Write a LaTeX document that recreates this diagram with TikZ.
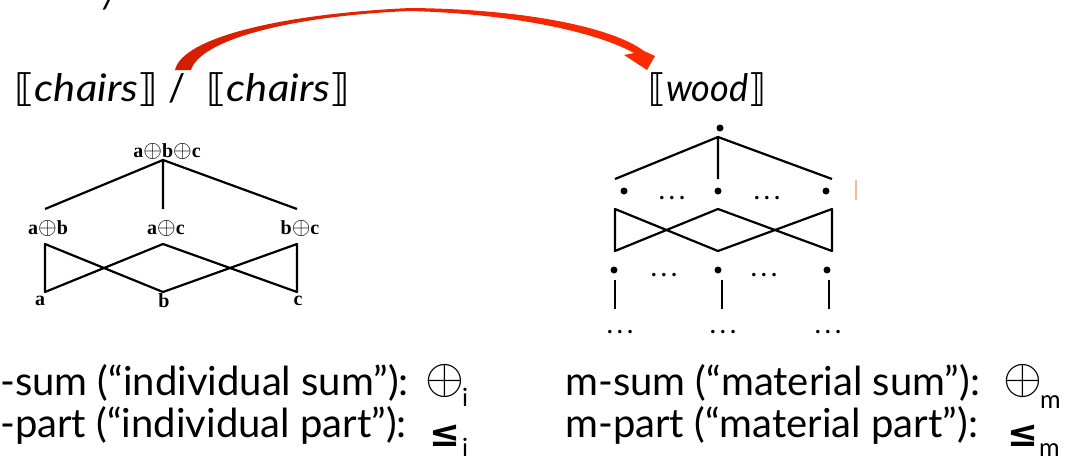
\documentclass[tikz,border=0pt]{standalone}
\usepackage{graphicx}
\usepackage{fontspec}
\setmainfont{Lato}
\newfontfamily\dvf{DejaVu Sans}
\newfontfamily\serifb{Liberation Serif}
\definecolor{arrdark}{RGB}{212,30,0}
\definecolor{arrlight}{RGB}{255,42,0}
\definecolor{faintorange}{RGB}{240,190,150}
\newcommand\brk[1]{{\dvf ⟦}\itshape #1\/{\upshape\dvf ⟧}}
\newcommand\elldots{{\dvf\fontsize{12}{12}\selectfont •\kern3pt•\kern3pt•}}
\newcommand\opl[1]{\scalebox{#1}{\fontsize{10}{12}\selectfont$\oplus$}}
\begin{document}
\begin{tikzpicture}[x=1pt,y=-1pt,
  ttl/.style={inner sep=0pt,anchor=base west,font=\fontsize{38}{40}\selectfont},
  lab/.style={inner sep=0pt,font=\serifb\bfseries\fontsize{20}{22}\selectfont},
  edge/.style={line width=2.2pt,black},
  dotn/.style={circle,fill=black,inner sep=0pt,minimum size=7pt},
  ell/.style={inner sep=0pt},
  bottxt/.style={inner sep=0pt,anchor=base west,font=\fontsize{40}{44}\selectfont},
  sym/.style={inner sep=0pt,anchor=base west},
  subs/.style={inner sep=0pt,anchor=base west,font=\fontsize{25}{25}\selectfont}]
\useasboundingbox (0,0) rectangle (1068,461);
% clipped fragment at top
\node[ttl] (frag) at (103,8) {\itshape /};
% titles
\node[ttl] (ch1) at (14,101) {\scalebox{1.1}[1]{\brk{chairs}}};
\node[ttl] (sl) at (168,101) {/};
\node[ttl] (ch2) at (206,101) {\scalebox{1.1}[1]{\brk{chairs}}};
\node[ttl] (wd) at (648,101) {\scalebox{0.95}[1]{\brk{wood}}};
% red arrow
\shade[left color=arrdark,right color=arrlight]
  (175,70) .. controls (182,38) and (280,14) .. (410,8)
  .. controls (520,9) and (610,26) .. (644,51) -- (655,56) -- (647,70) -- (624,55) -- (634,53)
  .. controls (600,34) and (520,14) .. (410,11)
  .. controls (290,16) and (200,40) .. (191,70) -- cycle;
% left lattice
\node[lab] (abc) at (167,151) {a\opl{2.4}b\opl{2.4}c};
\node[lab] (ab) at (48,228) {a\opl{2.4}b};
\node[lab] (ac) at (166,228) {a\opl{2.4}c};
\node[lab] (bc) at (300,228) {b\opl{2.4}c};
\node[lab] (a) at (40,301) {a};
\node[lab] (b) at (164,301) {b};
\node[lab] (c) at (298,301) {c};
\coordinate (t0) at (163,160);
\coordinate (m1) at (45,209);
\coordinate (m2) at (163,209);
\coordinate (m3) at (297,209);
\coordinate (u1) at (45,244);
\coordinate (u2) at (163,244);
\coordinate (u3) at (297,244);
\coordinate (d1) at (45,292);
\coordinate (d2) at (163,292);
\coordinate (d3) at (297,292);
\draw[edge] (m1) -- (t0) -- (m3) (t0) -- (m2);
\draw[edge,line join=round] (u1) -- (d1) -- (u2) -- (d3) -- (u3) -- (d2) -- cycle;
% right lattice
\node[dotn] (r0) at (720,128) {};
\node[dotn] (r11) at (624,191) {};
\node[dotn] (r12) at (718,191) {};
\node[dotn] (r13) at (826,191) {};
\node[dotn] (r21) at (614,270) {};
\node[dotn] (r22) at (718,270) {};
\node[dotn] (r23) at (827,270) {};
\node[ell] (e11) at (672,199) {\elldots};
\node[ell] (e12) at (767,199) {\elldots};
\node[ell] (e21) at (664,276) {\elldots};
\node[ell] (e22) at (764,276) {\elldots};
\node[ell] (e31) at (620,333) {\elldots};
\node[ell] (e32) at (723,333) {\elldots};
\node[ell] (e33) at (828,333) {\elldots};
\coordinate (rt) at (718,137);
\coordinate (rm1) at (615,179);
\coordinate (rm2) at (718,179);
\coordinate (rm3) at (832,179);
\coordinate (ru1) at (615,209);
\coordinate (ru2) at (718,209);
\coordinate (ru3) at (832,209);
\coordinate (rd1) at (615,251);
\coordinate (rd2) at (718,251);
\coordinate (rd3) at (832,251);
\draw[edge] (rm1) -- (rt) -- (rm3) (rt) -- (rm2);
\draw[edge,line join=round] (ru1) -- (rd1) -- (ru2) -- (rd3) -- (ru3) -- (rd2) -- cycle;
\coordinate (v1a) at (615,280); \coordinate (v1b) at (615,309);
\coordinate (v2a) at (722,280); \coordinate (v2b) at (722,309);
\coordinate (v3a) at (829,280); \coordinate (v3b) at (829,309);
\draw[edge] (v1a) -- (v1b) (v2a) -- (v2b) (v3a) -- (v3b);
% faint mark
\coordinate (fo1) at (856,180); \coordinate (fo2) at (856,200);
\draw[faintorange,line width=1.2pt] (fo1) -- (fo2);
% bottom text
\node[bottxt] (s1) at (0,395) {-sum (“individual sum”):};
\node[bottxt] (s2) at (0,437) {-part (“individual part”):};
\node[bottxt] (s3) at (565,395) {m-sum (“material sum”):};
\node[bottxt] (s4) at (565,437) {m-part (“material part”):};
\node[sym] (o1) at (425,393) {\opl{5.0}};
\node[subs] (i1) at (462,406) {i};
\node[sym] (le1) at (429,446) {\dvf\bfseries\fontsize{37}{37}\selectfont ≤};
\node[subs] (i2) at (462,456) {i};
\node[sym] (o2) at (1003,393) {\opl{5.0}};
\node[subs] (m1s) at (1040,408) {m};
\node[sym] (le2) at (1007,446) {\dvf\bfseries\fontsize{37}{37}\selectfont ≤};
\node[subs] (m2s) at (1039,456) {m};
\end{tikzpicture}
\end{document}
